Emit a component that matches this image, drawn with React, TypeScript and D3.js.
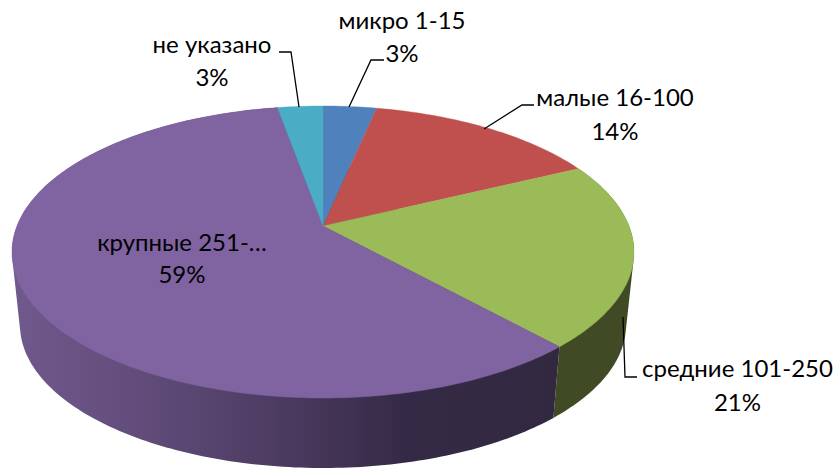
import React from "react";
import * as d3 from "d3";

const categories = ["микро 1-15", "малые 16-100", "средние 101-250", "крупные 251-…", "не указано"];
const shareValues = [3.3, 14.5, 20.5, 58.9, 2.8];
const shareLabels = ["3%", "14%", "21%", "59%", "3%"];
const sliceColors = ["#4f81bd", "#c0504d", "#9bbb59", "#8064a2", "#4bacc6"];

const W = 836;
const H = 469;
// perspective ellipses of the pie's top face and base
const topRim = { cx: 323, cy: 252, rx: 311, ry: 146 };
const baseRim = { cx: 323, cy: 325, rx: 303, ry: 143 };
const apexShift = -0.178;

const rimX = d3.scaleLinear().domain([-1, 1]);
const rimY = d3.scaleLinear().domain([-1, 1]);

// circle point to tilted-plane point (projective map keeping the unit disk)
function project(angle: number) {
  const x = Math.sin(angle);
  const y = -Math.cos(angle);
  const den = 1 + apexShift * y;
  return [(x * Math.sqrt(1 - apexShift * apexShift)) / den, (y + apexShift) / den];
}
function onRim(rim: typeof topRim, angle: number): [number, number] {
  const [u, v] = project(angle);
  const sx = rimX.copy().range([rim.cx - rim.rx, rim.cx + rim.rx]);
  const sy = rimY.copy().range([rim.cy - rim.ry, rim.cy + rim.ry]);
  return [sx(u), sy(v)];
}
const apex: [number, number] = [topRim.cx, topRim.cy + apexShift * topRim.ry];

const pieAngles = d3.pie<number>().sort(null).value((d) => d)(shareValues);

function arcSamples(a0: number, a1: number, rim: typeof topRim) {
  const n = Math.max(4, Math.ceil((a1 - a0) * 60));
  return d3.range(n + 1).map((i) => onRim(rim, a0 + ((a1 - a0) * i) / n));
}
const line = d3.line();

const labelLayout = [
  { x: 402, y1: 29, y2: 62, leader: [[384, 60], [371, 60], [349, 107]] },
  { x: 615, y1: 106, y2: 140, leader: [[534, 105], [522, 105], [484, 129]] },
  { x: 737.5, y1: 377, y2: 411, leader: [[637, 377], [625, 377], [623, 317]] },
  { x: 182, y1: 251, y2: 283, leader: null },
  { x: 212, y1: 53, y2: 86, leader: [[279, 52], [291, 52], [299, 107]] },
];

const purpleStops = [
  [0, "#705a8d"], [0.25, "#604b79"], [0.5, "#4b3a60"], [0.72, "#352a45"], [1, "#322840"],
];

export default function App() {
  return (
    <svg width={W} height={H} viewBox={`0 0 ${W} ${H}`} style={{ position: "absolute", left: 0, top: 0, background: "#fff" }}>
      <defs>
        <linearGradient id="wallPurple" gradientUnits="userSpaceOnUse" x1={12} x2={560} y1={0} y2={0}>
          {purpleStops.map(([o, c]) => <stop key={o} offset={o} stopColor={c as string} />)}
        </linearGradient>
      </defs>
      {pieAngles.map((p, i) => {
        if (i !== 2 && i !== 3) return null;
        const pts = d3.polygonHull([...arcSamples(p.startAngle, p.endAngle, topRim), ...arcSamples(p.startAngle, p.endAngle, baseRim)]) as [number, number][];
        return <path key={i} d={line(pts) + "Z"} fill={i === 3 ? "url(#wallPurple)" : "#404a24"} />;
      })}
      {pieAngles.map((p, i) => (
        <path key={i} d={line([apex, ...arcSamples(p.startAngle, p.endAngle, topRim)]) + "Z"} fill={sliceColors[i]} stroke={sliceColors[i]} strokeWidth={0.4} />
      ))}
      {labelLayout.map((l, i) =>
        l.leader ? <path key={i} d={line(l.leader as [number, number][]) as string} fill="none" stroke="#000" strokeWidth={1.3} /> : null
      )}
      <g fontFamily="Lato, 'Noto Sans', sans-serif" fontSize={24} fill="#000" textAnchor="middle">
        {labelLayout.map((l, i) => (
          <g key={i}>
            <text x={l.x} y={l.y1}>{categories[i]}</text>
            <text x={l.x} y={l.y2}>{shareLabels[i]}</text>
          </g>
        ))}
      </g>
    </svg>
  );
}
